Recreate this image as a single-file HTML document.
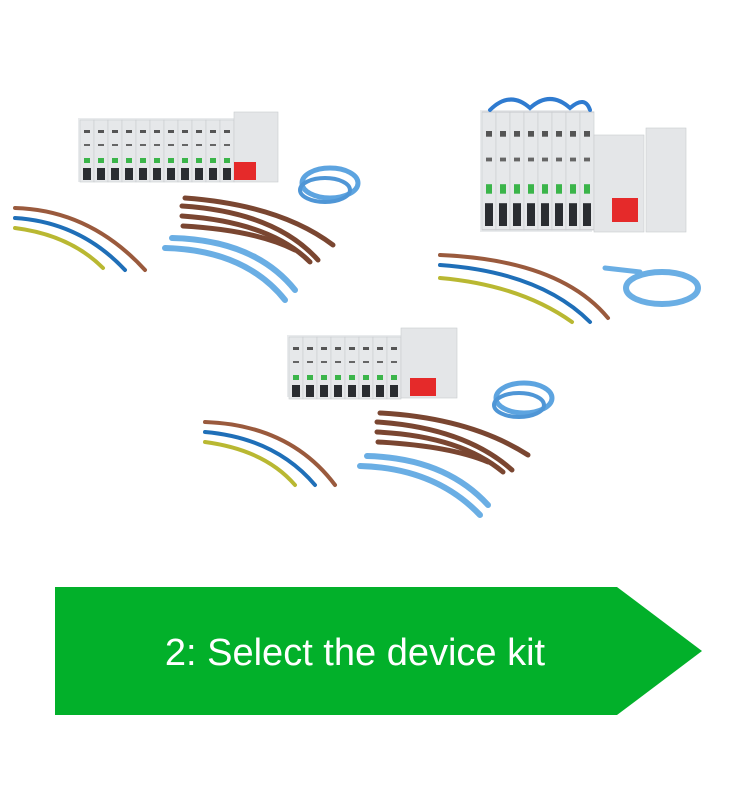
<!DOCTYPE html>
<html><head><meta charset="utf-8"><style>
html,body{margin:0;padding:0;background:#fff;width:756px;height:786px;overflow:hidden}
svg{position:absolute;left:0;top:0}
</style></head><body>
<svg width="756" height="786" viewBox="0 0 756 786" xmlns="http://www.w3.org/2000/svg">
<defs>
<g id="mod">
<rect x="0" y="0" width="14" height="62" fill="#e6e8ea" stroke="#c9cccf" stroke-width="0.6"/>
<rect x="4" y="10" width="6" height="3" fill="#555"/>
<rect x="4" y="24" width="6" height="2" fill="#666"/>
<rect x="4" y="38" width="6" height="5" fill="#3bb54a"/>
<rect x="3" y="48" width="8" height="12" fill="#2a2d31"/>
</g>
</defs>
<g>
<rect x="78" y="118" width="200" height="64" fill="#e9ebed"/>
<use href="#mod" x="80" y="120"/><use href="#mod" x="94" y="120"/><use href="#mod" x="108" y="120"/><use href="#mod" x="122" y="120"/>
<use href="#mod" x="136" y="120"/><use href="#mod" x="150" y="120"/><use href="#mod" x="164" y="120"/><use href="#mod" x="178" y="120"/>
<use href="#mod" x="192" y="120"/><use href="#mod" x="206" y="120"/><use href="#mod" x="220" y="120"/>
<rect x="234" y="112" width="44" height="70" fill="#e4e6e8" stroke="#c9cccf" stroke-width="0.6"/>
<rect x="234" y="162" width="22" height="18" fill="#e52a2a"/>
<g fill="none" stroke-linecap="round">
<path d="M15 208 Q90 210 145 270" stroke="#9a5a3d" stroke-width="4"/>
<path d="M15 218 Q80 222 125 270" stroke="#1f6fb8" stroke-width="4"/>
<path d="M15 228 Q70 235 103 268" stroke="#b9b832" stroke-width="4"/>
<path d="M185 198 Q280 205 333 245" stroke="#7a4631" stroke-width="5"/>
<path d="M182 206 Q275 212 318 260" stroke="#7a4631" stroke-width="5"/>
<path d="M182 216 Q270 222 310 262" stroke="#7a4631" stroke-width="5"/>
<path d="M183 226 Q255 230 295 250" stroke="#7a4631" stroke-width="5"/>
<path d="M172 238 Q255 240 295 290" stroke="#6aaee4" stroke-width="6"/>
<path d="M165 248 Q245 250 285 300" stroke="#6aaee4" stroke-width="6"/>
<ellipse cx="330" cy="183" rx="28" ry="15" stroke="#5da4e0" stroke-width="5"/>
<ellipse cx="325" cy="190" rx="25" ry="12" stroke="#4f96d6" stroke-width="4"/>
</g>
</g>
<g>
<rect x="480" y="110" width="112" height="122" fill="#e9ebed"/>
<g transform="translate(482,112) scale(1,1.9)">
<use href="#mod" x="0" y="0"/><use href="#mod" x="14" y="0"/><use href="#mod" x="28" y="0"/><use href="#mod" x="42" y="0"/><use href="#mod" x="56" y="0"/><use href="#mod" x="70" y="0"/><use href="#mod" x="84" y="0"/><use href="#mod" x="98" y="0"/>
</g>
<rect x="594" y="135" width="50" height="97" fill="#e4e6e8" stroke="#c9cccf" stroke-width="0.6"/>
<rect x="646" y="128" width="40" height="104" fill="#e4e6e8" stroke="#c9cccf" stroke-width="0.6"/>
<rect x="612" y="198" width="26" height="24" fill="#e52a2a"/>
<g fill="none" stroke-linecap="round">
<path d="M490 110 Q510 90 530 108 Q550 90 570 108 Q585 95 590 110" stroke="#2f7bd0" stroke-width="4"/>
<path d="M440 255 Q560 260 608 318" stroke="#9a5a3d" stroke-width="4"/>
<path d="M440 265 Q540 272 590 322" stroke="#1f6fb8" stroke-width="4"/>
<path d="M440 278 Q520 285 572 322" stroke="#b9b832" stroke-width="4"/>
<ellipse cx="662" cy="288" rx="36" ry="16" stroke="#6aaee4" stroke-width="6"/>
<path d="M605 268 L640 272" stroke="#6aaee4" stroke-width="5"/>
</g>
</g>
<g>
<rect x="287" y="335" width="170" height="62" fill="#e9ebed"/>
<use href="#mod" x="289" y="337"/><use href="#mod" x="303" y="337"/><use href="#mod" x="317" y="337"/><use href="#mod" x="331" y="337"/>
<use href="#mod" x="345" y="337"/><use href="#mod" x="359" y="337"/><use href="#mod" x="373" y="337"/><use href="#mod" x="387" y="337"/>
<rect x="401" y="328" width="56" height="70" fill="#e4e6e8" stroke="#c9cccf" stroke-width="0.6"/>
<rect x="410" y="378" width="26" height="18" fill="#e52a2a"/>
<g fill="none" stroke-linecap="round">
<path d="M205 422 Q290 425 335 485" stroke="#9a5a3d" stroke-width="4"/>
<path d="M205 432 Q275 438 315 485" stroke="#1f6fb8" stroke-width="4"/>
<path d="M205 442 Q265 450 295 485" stroke="#b9b832" stroke-width="4"/>
<path d="M380 413 Q470 418 528 455" stroke="#7a4631" stroke-width="5"/>
<path d="M377 422 Q465 428 512 470" stroke="#7a4631" stroke-width="5"/>
<path d="M377 432 Q460 436 503 472" stroke="#7a4631" stroke-width="5"/>
<path d="M378 442 Q450 446 488 462" stroke="#7a4631" stroke-width="5"/>
<path d="M367 456 Q445 458 488 505" stroke="#6aaee4" stroke-width="6"/>
<path d="M360 466 Q435 468 480 515" stroke="#6aaee4" stroke-width="6"/>
<ellipse cx="524" cy="398" rx="28" ry="15" stroke="#5da4e0" stroke-width="5"/>
<ellipse cx="519" cy="405" rx="25" ry="12" stroke="#4f96d6" stroke-width="4"/>
</g>
</g>
<polygon points="55,587 617,587 702,651 617,715 55,715" fill="#02b02a"/>
<text x="355" y="665" text-anchor="middle" font-family="Liberation Sans, sans-serif" font-size="38" fill="#ffffff">2: Select the device kit</text>
</svg>
</body></html>
